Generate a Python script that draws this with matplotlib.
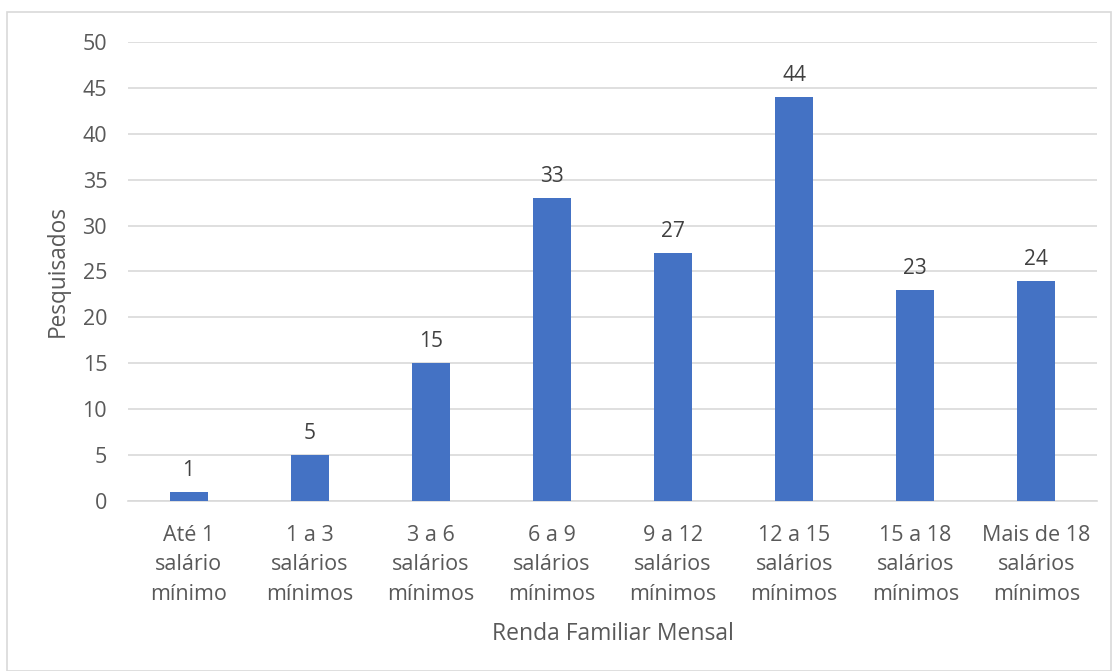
import matplotlib.pyplot as plt
from matplotlib.patches import Rectangle

# Faixas de renda e número de pesquisados
faixas = ['Até 1\nsalário\nmínimo', '1 a 3\nsalários\nmínimos', '3 a 6\nsalários\nmínimos',
          '6 a 9\nsalários\nmínimos', '9 a 12\nsalários\nmínimos', '12 a 15\nsalários\nmínimos',
          '15 a 18\nsalários\nmínimos', 'Mais de 18\nsalários\nmínimos']
pesquisados = [1, 5, 15, 33, 27, 44, 23, 24]
yticks = list(range(0, 51, 5))

plt.rcParams['font.family'] = ['Open Sans', 'DejaVu Sans']

fig = plt.figure(figsize=(11.12, 6.71), dpi=100)
ax = fig.add_axes([0.1151, 0.2534, 0.8714, 0.684])

x = range(len(faixas))
barras = ax.bar(x, pesquisados, width=0.313, color='#4472C4', zorder=3)

for b, v in zip(barras, pesquisados):
    ax.annotate(str(v), (b.get_x() + b.get_width() / 2, v), xytext=(0, 8),
                textcoords='offset points', ha='center', va='bottom',
                fontsize=15, color='#404040')

ax.set_xlim(-0.5, len(faixas) - 0.5)
ax.set_ylim(0, 50)
ax.set_yticks(yticks)
ax.set_xticks(list(x))
ax.set_xticklabels(faixas, linespacing=1.55)
ax.tick_params(axis='both', length=0, labelsize=15.5, labelcolor='#595959')
ax.tick_params(axis='y', pad=15)
ax.tick_params(axis='x', pad=17)
ax.grid(axis='y', color='#D9D9D9', linewidth=1.2, zorder=0)
for s in ['top', 'right', 'left']:
    ax.spines[s].set_visible(False)
ax.spines['bottom'].set_color('#D9D9D9')
ax.spines['bottom'].set_linewidth(1.2)

ax.set_ylabel('Pesquisados', fontsize=16.3, color='#595959', labelpad=9)
ax.set_xlabel('Renda Familiar Mensal', fontsize=16.5, color='#595959', labelpad=12)

# moldura do gráfico
fig.patches.append(Rectangle((7 / 1112, 0), 1104 / 1112, 659 / 671, transform=fig.transFigure,
                             fill=False, edgecolor='#D9D9D9', linewidth=1.2))

fig.savefig('out.png', dpi=100)
